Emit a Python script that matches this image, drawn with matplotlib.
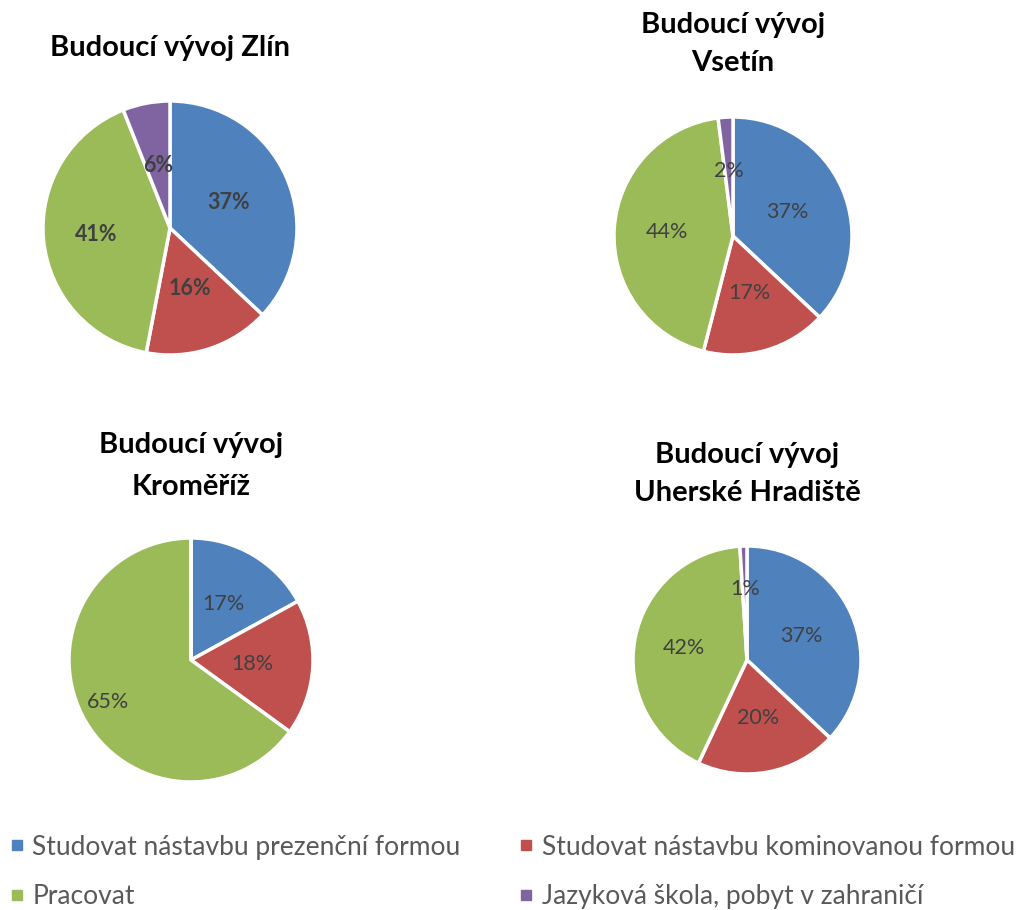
import numpy as np
import matplotlib
matplotlib.use('Agg')
import matplotlib.pyplot as plt
from matplotlib.lines import Line2D

plt.rcParams['font.family'] = ['Lato', 'DejaVu Sans']

# categories and values (percent shares)
categories = ['Studovat nástavbu prezenční formou',
              'Studovat nástavbu kominovanou formou',
              'Pracovat',
              'Jazyková škola, pobyt v zahraničí']
titles = ['Budoucí vývoj Zlín', 'Budoucí vývoj\nVsetín',
          'Budoucí vývoj\nKroměříž', 'Budoucí vývoj\nUherské Hradiště']
zlin = [37, 16, 41, 6]
vsetin = [37, 17, 44, 2]
kromeriz = [17, 18, 65, 0]
uh = [37, 20, 42, 1]

colors = ['#4F81BD', '#C0504D', '#9BBB59', '#8064A2']
W, H = 1021, 910

# pie center x, center y, radius (pixels), title line y, label distances, bold labels
layout = [
    (170, 228, 127, [48], [0.5, 0.5, 0.58, 0.5], True),
    (733, 236, 119, [25, 63], [0.5, 0.5, 0.56, 0.55], False),
    (191, 660, 122, [445, 487], [0.53, 0.5, 0.76, 0.5], False),
    (747, 660, 114, [455, 493], [0.52, 0.52, 0.56, 0.62], False),
]
data = [zlin, vsetin, kromeriz, uh]

fig = plt.figure(figsize=(W / 100, H / 100), dpi=100)

for vals, title, lay in zip(data, titles, layout):
    cx, cy, r, ty, ldist, bold = lay
    ax = fig.add_axes([(cx - r) / W, 1 - (cy + r) / H, 2 * r / W, 2 * r / H])
    wedges, _ = ax.pie(vals, colors=colors, startangle=90, counterclock=False,
                       radius=1, wedgeprops=dict(edgecolor='white', linewidth=2.5))
    for w, v, d in zip(wedges, vals, ldist):
        if v == 0:
            continue
        ang = np.deg2rad((w.theta1 + w.theta2) / 2)
        ax.text(d * np.cos(ang), d * np.sin(ang), '{}%'.format(v),
                ha='center', va='center', fontsize=15.5, color='#404040',
                fontweight='bold' if bold else 'normal')
    ax.set_xlim(-1, 1)
    ax.set_ylim(-1, 1)
    ax.set_aspect('equal')
    ax.axis('off')
    for line, y in zip(title.split('\n'), ty):
        fig.text(cx / W, 1 - y / H, line, ha='center', va='center',
                 fontsize=21, fontweight='bold', color='black')

# legend filled row by row
order = [0, 2, 1, 3]
handles = [Line2D([], [], marker='s', linestyle='', markersize=7,
                  markerfacecolor=colors[i], markeredgecolor=colors[i]) for i in order]
fig.legend(handles, [categories[i] for i in order], ncol=2, loc='center left',
           bbox_to_anchor=(0.0, 1 - 872 / H), frameon=False, fontsize=19,
           labelcolor='#595959', handletextpad=0.25, columnspacing=2.14,
           labelspacing=0.94, handlelength=0.7, borderaxespad=0, borderpad=0.28)

fig.savefig('out.png', dpi=100)
